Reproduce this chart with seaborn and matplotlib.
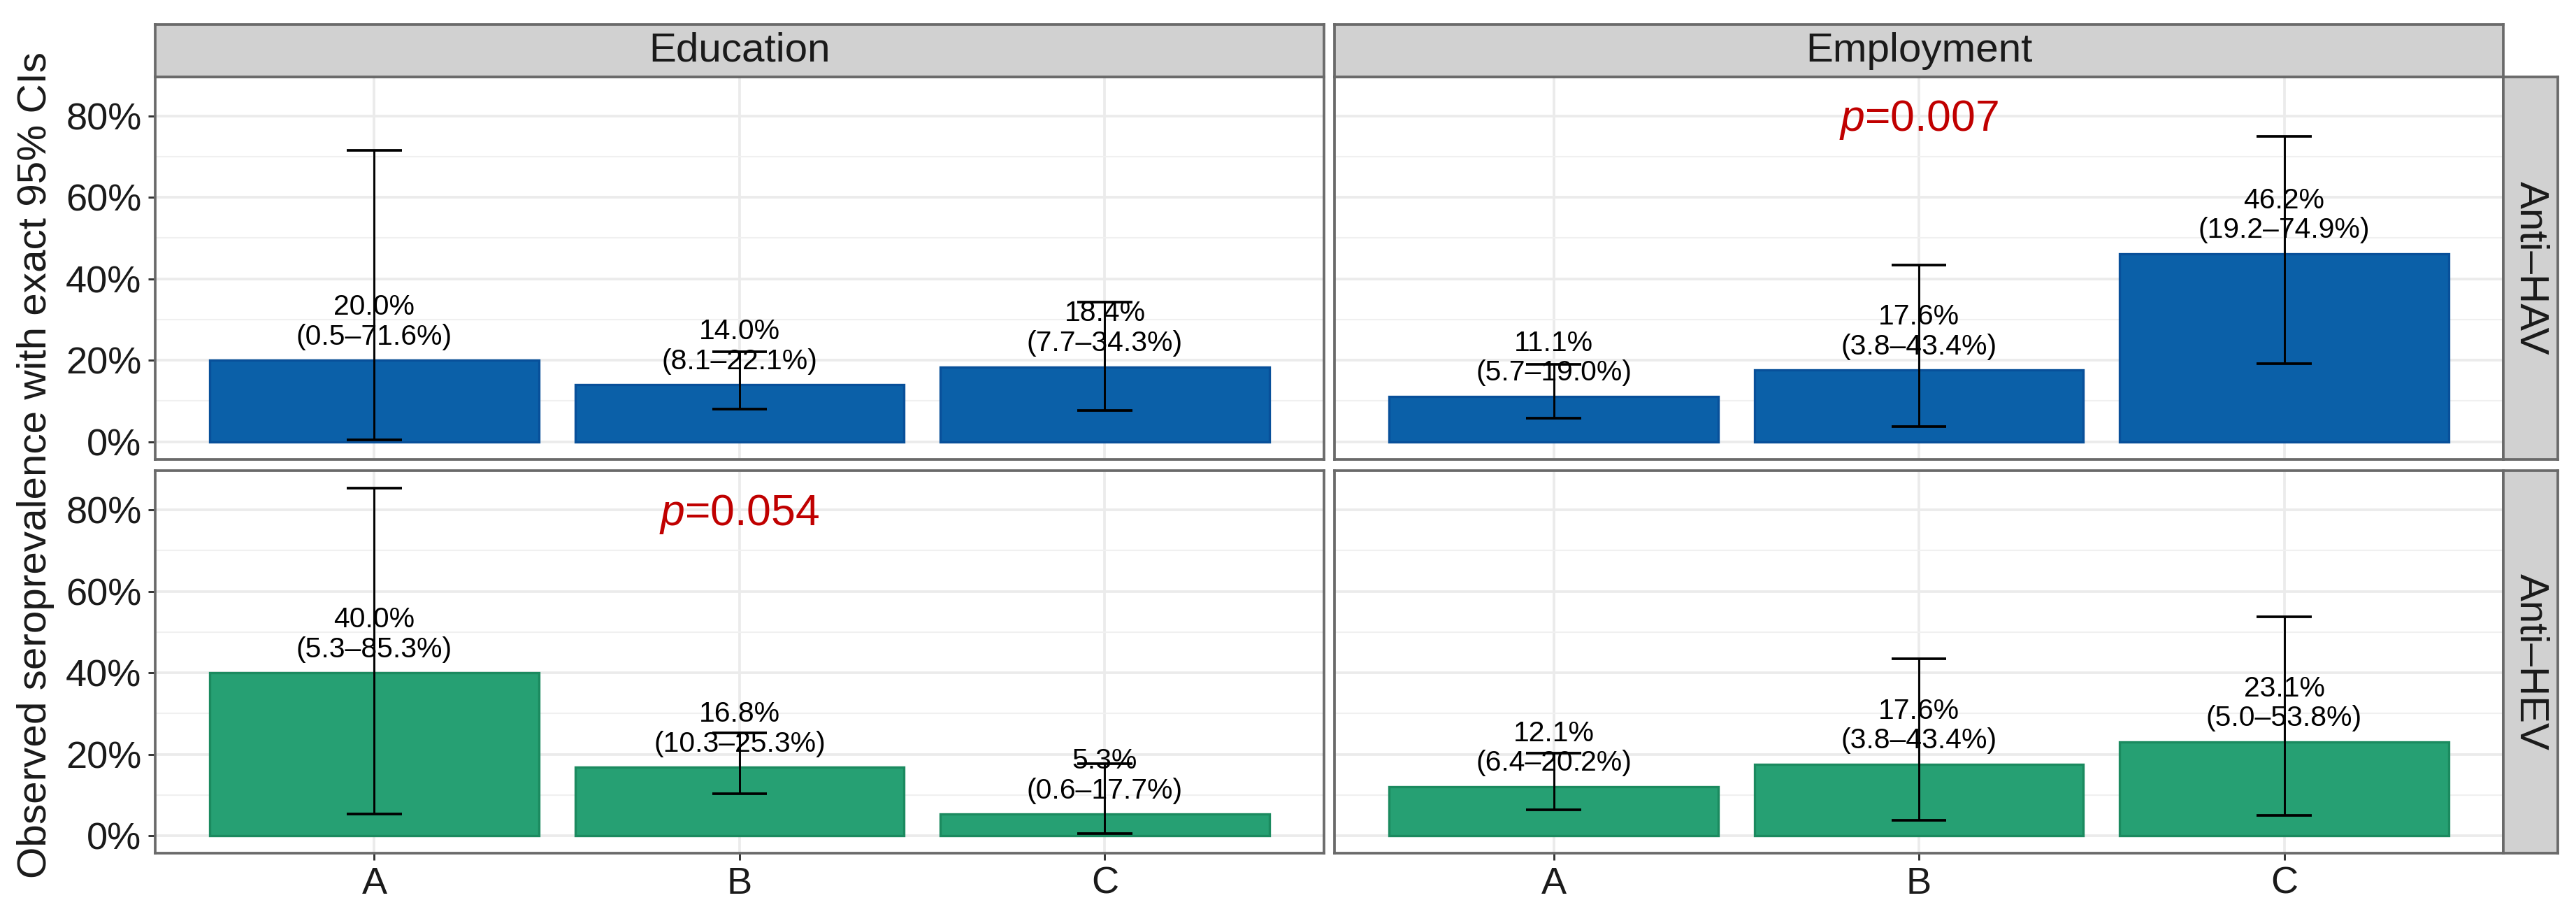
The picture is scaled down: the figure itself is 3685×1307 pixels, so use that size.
import matplotlib
matplotlib.use("Agg")
import matplotlib.pyplot as plt
import seaborn as sns
import numpy as np
import pandas as pd
from matplotlib.ticker import MultipleLocator, FuncFormatter

# data (percent)
groups = ["A", "B", "C"]
markers = ["Anti–HAV", "Anti–HEV"]
factors = ["Education", "Employment"]

hav_edu = [20.0, 14.0, 18.4]
hav_edu_lo = [0.5, 8.1, 7.7]
hav_edu_hi = [71.6, 22.1, 34.3]

hav_emp = [11.1, 17.6, 46.2]
hav_emp_lo = [5.7, 3.8, 19.2]
hav_emp_hi = [19.0, 43.4, 74.9]

hev_edu = [40.0, 16.8, 5.3]
hev_edu_lo = [5.3, 10.3, 0.6]
hev_edu_hi = [85.3, 25.3, 17.7]

hev_emp = [12.1, 17.6, 23.1]
hev_emp_lo = [6.4, 3.8, 5.0]
hev_emp_hi = [20.2, 43.4, 53.8]

p_labels = {("Anti–HAV", "Employment"): "0.007", ("Anti–HEV", "Education"): "0.054"}

bar_colors = {"Anti–HAV": "#0B60A8", "Anti–HEV": "#26A073"}
edge_colors = {"Anti–HAV": "#08509A", "Anti–HEV": "#1B8A5F"}

panels = {
    ("Anti–HAV", "Education"): (hav_edu, hav_edu_lo, hav_edu_hi),
    ("Anti–HAV", "Employment"): (hav_emp, hav_emp_lo, hav_emp_hi),
    ("Anti–HEV", "Education"): (hev_edu, hev_edu_lo, hev_edu_hi),
    ("Anti–HEV", "Employment"): (hev_emp, hev_emp_lo, hev_emp_hi),
}

rows = []
for (mk, fc), (v, lo, hi) in panels.items():
    for g, a, b, c in zip(groups, v, lo, hi):
        rows.append({"marker": mk, "factor": fc, "group": g, "value": a, "lo": b, "hi": c})
df = pd.DataFrame(rows)

sns.set_style("white")
plt.rcParams["font.family"] = ["Liberation Sans", "DejaVu Sans"]
plt.rcParams["mathtext.fontset"] = "custom"
plt.rcParams["mathtext.it"] = "Liberation Sans:italic"
plt.rcParams["mathtext.rm"] = "Liberation Sans"

W, H = 3685, 1307
fig, axes = plt.subplots(2, 2, figsize=(W / 300, H / 300), dpi=300, sharex=True, sharey=True)
fig.subplots_adjust(left=222 / W, right=3581 / W, top=1 - 110 / H, bottom=1 - 1220 / H,
                    wspace=0.009, hspace=0.031)

border = "#6A6A6A"
ymax = df["hi"].max()
for i, mk in enumerate(markers):
    for j, fc in enumerate(factors):
        ax = axes[i, j]
        sub = df[(df["marker"] == mk) & (df["factor"] == fc)]
        sns.barplot(data=sub, x="group", y="value", order=groups, color=bar_colors[mk],
                    width=0.9, errorbar=None, saturation=1, ax=ax,
                    edgecolor=edge_colors[mk], linewidth=0.8, zorder=2)
        xs = np.arange(len(groups))
        vals = sub["value"].to_numpy()
        ax.errorbar(xs, vals, yerr=[vals - sub["lo"].to_numpy(), sub["hi"].to_numpy() - vals],
                    fmt="none", ecolor="black", elinewidth=0.7, capsize=0, zorder=4)
        # caps of width 0.15, like ggplot's errorbar
        ax.hlines(sub["lo"], xs - 0.075, xs + 0.075, color="black", lw=0.9, zorder=4)
        ax.hlines(sub["hi"], xs - 0.075, xs + 0.075, color="black", lw=0.9, zorder=4)
        for x, (_, r) in zip(xs, sub.iterrows()):
            ax.annotate(f"{r['value']:.1f}%\n({r['lo']:.1f}–{r['hi']:.1f}%)", (x, r["value"]),
                        xytext=(0, 3.5), textcoords="offset points", ha="center", va="bottom",
                        fontsize=9.8, color="black", linespacing=1.15, zorder=3)
        if (mk, fc) in p_labels:
            ax.text(1, 79, r"$\mathit{p}$=" + p_labels[(mk, fc)], ha="center", va="center",
                    fontsize=15, color="#C00000", zorder=5)

        ax.set_xlim(-0.6, 2.6)
        ax.set_ylim(-0.05 * ymax, 1.05 * ymax)
        ax.yaxis.set_major_locator(MultipleLocator(20))
        ax.yaxis.set_minor_locator(MultipleLocator(10))
        ax.yaxis.set_major_formatter(FuncFormatter(lambda v, p: f"{v:.0f}%"))
        ax.set_axisbelow(True)
        ax.grid(which="major", color="#EBEBEB", lw=0.9, zorder=0)
        ax.grid(which="minor", axis="y", color="#F0F0F0", lw=0.5, zorder=0)
        for s in ax.spines.values():
            s.set_color(border)
            s.set_linewidth(0.9)
            s.set_visible(True)
        ax.set_xlabel("")
        ax.set_ylabel("")
        ax.tick_params(axis="both", which="major", length=2.5, width=0.7, color="#333333",
                       labelsize=13, labelcolor="#1A1A1A")
        ax.tick_params(axis="y", pad=2.2)
        ax.tick_params(axis="x", pad=2.0)
        ax.tick_params(which="minor", length=0)
        ax.tick_params(left=(j == 0), bottom=(i == 1))

        pos = ax.get_position()
        if i == 0:
            sax = fig.add_axes([pos.x0, pos.y1, pos.width, 75 / H])
            sax.set_facecolor("#D1D1D1")
            sax.set_xticks([]); sax.set_yticks([])
            for s in sax.spines.values():
                s.set_color(border); s.set_linewidth(0.9)
            sax.text(0.5, 0.5, fc, ha="center", va="center", fontsize=14, color="#1A1A1A",
                     transform=sax.transAxes)
        if j == 1:
            sax = fig.add_axes([pos.x1, pos.y0, 78 / W, pos.height])
            sax.set_facecolor("#D1D1D1")
            sax.set_xticks([]); sax.set_yticks([])
            for s in sax.spines.values():
                s.set_color(border); s.set_linewidth(0.9)
            sax.text(0.5, 0.5, mk, ha="center", va="center", rotation=-90, fontsize=14,
                     color="#1A1A1A", transform=sax.transAxes)

fig.text(51 / W, 1 - 665 / H, "Observed seroprevalence with exact 95% CIs", rotation=90,
         ha="center", va="center", fontsize=14, color="#1A1A1A")

fig.savefig("out.png", dpi=300)
